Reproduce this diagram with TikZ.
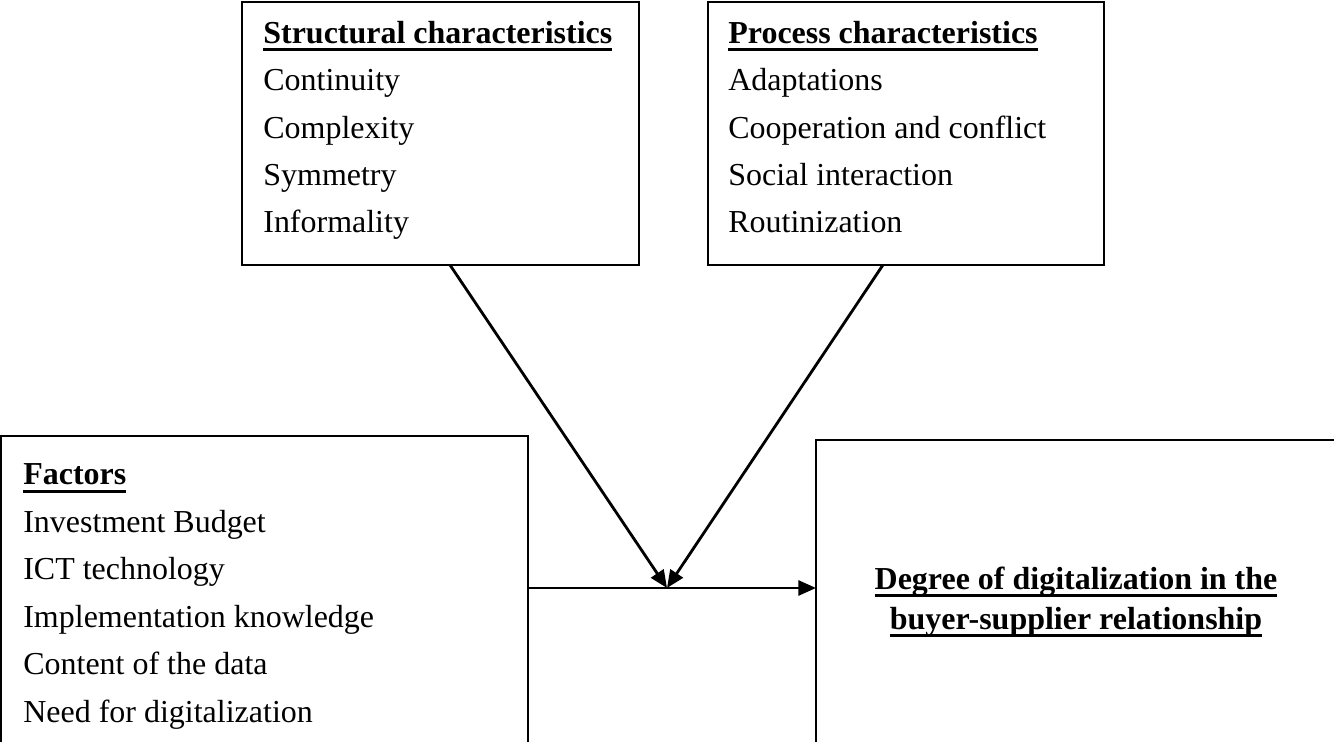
\documentclass[tikz,border=0pt]{standalone}
\usepackage{fontspec}
\setmainfont{Liberation Serif}
\usetikzlibrary{positioning}
\usetikzlibrary{arrows.meta}
\tikzset{
    box/.style = {rectangle, draw=black, line width=0.9pt, inner sep=0pt, outer sep=0pt, anchor=north west},
    boxtext/.style = {inner sep=0pt, align=left, anchor=base west, font=\fontsize{18.2pt}{27pt}\selectfont},
    boxtitle/.style = {inner sep=0pt, align=center, font=\fontsize{18.2pt}{22.8pt}\selectfont},
    edgen/.style = {-{Triangle[length=10pt,width=8.5pt]}, line width=1.6pt},
}
\newcommand{\Hd}[1]{\setbox0\hbox{\bfseries #1}\rlap{\rule[-4.4pt]{\wd0}{1.7pt}}\box0}

\begin{document}
\begin{tikzpicture}[x=0.02cm, y=-0.02cm]
\useasboundingbox (0,0) rectangle (1334,742);
\node[box, minimum width=7.94cm, minimum height=5.26cm] at (242,2) (struct) {};
\node[box, minimum width=7.92cm, minimum height=5.26cm] at (708,2) (proc) {};
\node[box, minimum width=10.54cm, minimum height=6.8cm] at (1,436) (factors) {};
\node[box, minimum width=10.8cm, minimum height=6.8cm] at (816,440) (degree) {};
% base anchor = last line
\node[boxtext] at (263,233) (structtxt) {\Hd{Structural characteristics}\\ Continuity\\ Complexity\\ Symmetry\\ Informality};
\node[boxtext] at (728,233) (proctxt) {\Hd{Process characteristics}\\ Adaptations\\ Cooperation and conflict\\ Social interaction\\ Routinization};
\node[boxtext] at (23,722) (factorstxt) {\Hd{Factors}\\ Investment Budget\\ ICT technology\\ Implementation knowledge\\ Content of the data\\ Need for digitalization};
\node[boxtitle] at (1076,602) (degreetxt) {\Hd{Degree of digitalization in the}\\ \Hd{buyer-supplier relationship}};
%
\coordinate (meet) at (667,588);
\draw[edgen] ([xshift=0.19cm]struct.south) -- (meet);
\draw[edgen] ([xshift=-0.46cm]proc.south) -- (meet);
\draw[edgen] (factors.east |- meet) -- (degree.west |- meet);
\end{tikzpicture}
\end{document}
